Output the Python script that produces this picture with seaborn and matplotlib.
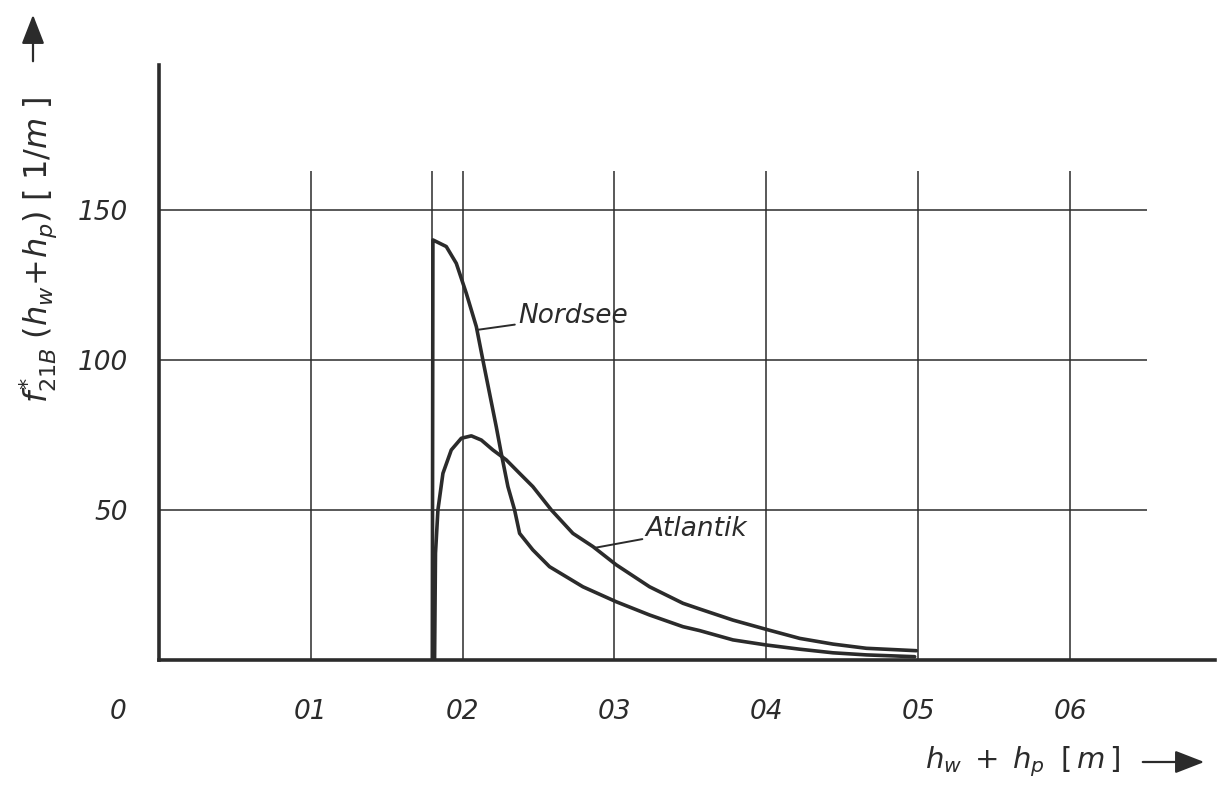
import matplotlib
matplotlib.use("Agg")
import matplotlib.pyplot as plt
import seaborn as sns
import pandas as pd

# ---- data ----
nordsee_x = [0.180, 0.1804, 0.1892, 0.1958, 0.2024, 0.2090, 0.2133, 0.2177, 0.2221, 0.2254,
             0.2298, 0.2342, 0.2375, 0.2462, 0.2572, 0.2792, 0.3012, 0.3231, 0.3451, 0.3561,
             0.3780, 0.4000, 0.4220, 0.4439, 0.4659, 0.4977]
nordsee_y = [0.0, 140.0, 137.8, 132.2, 122.2, 111.1, 100.0, 88.9, 77.8, 68.9,
             57.8, 50.0, 42.2, 36.7, 31.1, 24.4, 19.4, 15.0, 11.1, 9.8,
             6.7, 5.0, 3.6, 2.4, 1.7, 1.1]
atlantik_x = [0.1815, 0.1821, 0.1837, 0.1870, 0.1925, 0.1991, 0.2057, 0.2123, 0.2199, 0.2287,
              0.2375, 0.2462, 0.2584, 0.2726, 0.2858, 0.3012, 0.3231, 0.3451, 0.3561, 0.3780,
              0.4000, 0.4220, 0.4439, 0.4659, 0.4988]
atlantik_y = [0.0, 35.6, 50.0, 62.2, 70.0, 73.9, 74.7, 73.3, 70.0, 66.7,
              62.2, 57.8, 50.0, 42.2, 37.8, 31.7, 24.4, 18.9, 17.0, 13.3,
              10.2, 7.2, 5.3, 3.9, 3.1]
x_ticks = [0.1, 0.2, 0.3, 0.4, 0.5, 0.6]
x_ticklabels = ["01", "02", "03", "04", "05", "06"]
y_ticks = [50, 100, 150]
y_ticklabels = ["50", "100", "150"]
extra_vline = 0.18

df = pd.concat([
    pd.DataFrame({"x": nordsee_x, "y": nordsee_y, "s": "Nordsee"}),
    pd.DataFrame({"x": atlantik_x, "y": atlantik_y, "s": "Atlantik"}),
], ignore_index=True)

sns.set_theme(style="white")
plt.rcParams["font.family"] = ["DejaVu Sans"]

ink = "#2b2b2b"
fig = plt.figure(figsize=(12.26, 7.87), dpi=100)
ax = fig.add_axes([159 / 1226, 1 - 660 / 787, (1215 - 159) / 1226, (660 - 65) / 787])

ax.set_xlim(0, 0.6955)
ax.set_ylim(0, 198.3)

# grid (partial, as in the drawing)
ax.hlines(y_ticks, 0, 0.651, color=ink, lw=1.1, zorder=1)
ax.vlines(x_ticks + [extra_vline], 0, 163, color=ink, lw=1.1, zorder=1)

sns.lineplot(data=df, x="x", y="y", hue="s", palette={"Nordsee": ink, "Atlantik": ink},
             sort=False, estimator=None, lw=2.6, legend=False, ax=ax, zorder=3)
for ln in ax.get_lines():
    ln.set_solid_joinstyle("round")
    ln.set_solid_capstyle("round")

for sp in ["top", "right"]:
    ax.spines[sp].set_visible(False)
for sp in ["left", "bottom"]:
    ax.spines[sp].set_color(ink)
    ax.spines[sp].set_linewidth(2.6)

ax.set_xticks(x_ticks)
ax.set_xticklabels(x_ticklabels)
ax.set_yticks(y_ticks)
ax.set_yticklabels(y_ticklabels)
ax.tick_params(axis="x", length=0, pad=28, labelsize=19, labelcolor=ink)
ax.tick_params(axis="y", length=0, pad=22, labelsize=19, labelcolor=ink)
for lab in ax.get_xticklabels() + ax.get_yticklabels():
    lab.set_style("italic")
ax.set_xlabel("")
ax.set_ylabel("")

# origin label
ax.text(-0.039, -0.088, "0", transform=ax.transAxes, fontsize=19, style="italic",
        color=ink, ha="center", va="center")

# axis titles
fig.text(925 / 1226, 1 - 762 / 787, r"$h_w\;+\;h_p\;\;[\,m\,]$", fontsize=21,
         color=ink, ha="left", va="center")
fig.patches.append(matplotlib.patches.FancyArrowPatch(
    (1140 / 1226, 1 - 762 / 787), (1207 / 1226, 1 - 762 / 787), transform=fig.transFigure,
    arrowstyle="-|>,head_length=9,head_width=3.5", color=ink, lw=1.6, mutation_scale=2))

fig.text(38 / 1226, 1 - 250 / 787, r"$f^{*}_{21B}\;(h_w\!+\!h_p)\;[\;1/m\;]$",
         rotation=90, fontsize=23, color=ink, ha="center", va="center")
fig.patches.append(matplotlib.patches.FancyArrowPatch(
    (33 / 1226, 1 - 64 / 787), (33 / 1226, 1 - 12 / 787), transform=fig.transFigure,
    arrowstyle="-|>,head_length=9,head_width=3.5", color=ink, lw=1.6, mutation_scale=2))

# curve labels
ax.annotate("Nordsee", xy=(0.2093, 110.0), xytext=(0.2365, 114.5), fontsize=19,
            style="italic", color=ink, ha="left", va="center",
            arrowprops=dict(arrowstyle="-", color=ink, lw=1.4, shrinkA=0, shrinkB=0))
ax.annotate("Atlantik", xy=(0.2872, 37.4), xytext=(0.3205, 43.6), fontsize=19,
            style="italic", color=ink, ha="left", va="center",
            arrowprops=dict(arrowstyle="-", color=ink, lw=1.4, shrinkA=0, shrinkB=0))

fig.savefig("out.png", dpi=100, facecolor="white")
